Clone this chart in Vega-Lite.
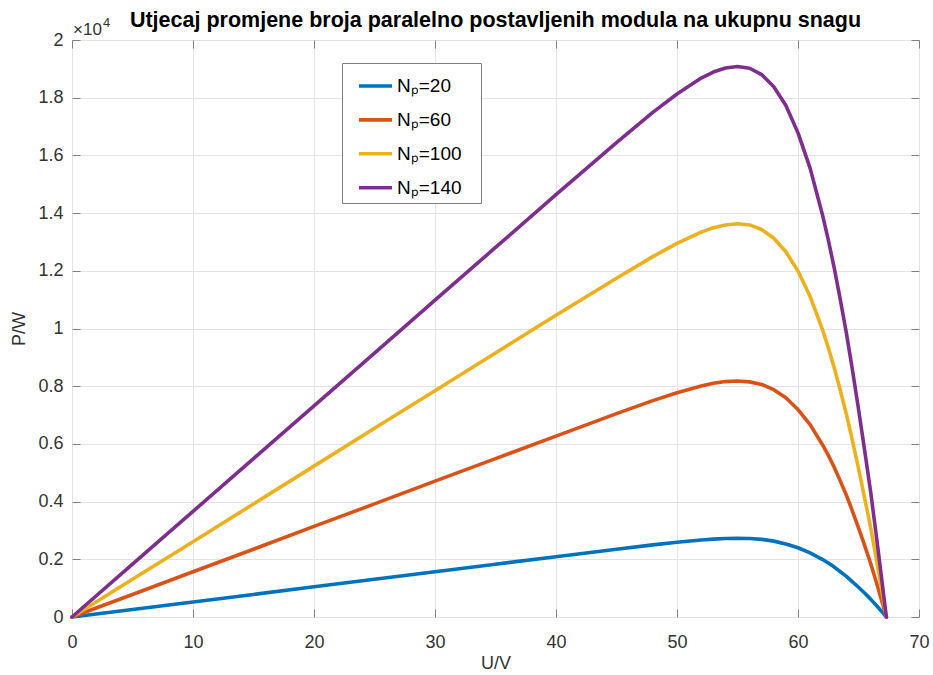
{
 "$schema": "https://vega.github.io/schema/vega-lite/v6.json",
 "width": 847,
 "height": 577,
 "autosize": {"type": "none"},
 "padding": {"left": 72, "top": 40, "right": 14, "bottom": 58},
 "background": "white",
 "config": {
  "font": "Liberation Sans",
  "view": {"stroke": "#808080", "strokeWidth": 1}
 },
 "title": {"text": "Utjecaj promjene broja paralelno postavljenih modula na ukupnu snagu", "fontSize": 21.5, "fontWeight": "bold", "color": "#000000", "offset": -14, "anchor": "middle", "font": "Liberation Sans"},
 "datasets": {
  "curves": [
   {"series":"Nₚ=20","U":0,"P":0},{"series":"Nₚ=20","U":5,"P":0.026},{"series":"Nₚ=20","U":10,"P":0.052},{"series":"Nₚ=20","U":15,"P":0.078},{"series":"Nₚ=20","U":20,"P":0.105},{"series":"Nₚ=20","U":25,"P":0.131},{"series":"Nₚ=20","U":30,"P":0.157},{"series":"Nₚ=20","U":35,"P":0.183},{"series":"Nₚ=20","U":40,"P":0.209},{"series":"Nₚ=20","U":45,"P":0.235},{"series":"Nₚ=20","U":48,"P":0.250},{"series":"Nₚ=20","U":50,"P":0.259},{"series":"Nₚ=20","U":52,"P":0.267},{"series":"Nₚ=20","U":53,"P":0.270},{"series":"Nₚ=20","U":54,"P":0.272},{"series":"Nₚ=20","U":55,"P":0.273},{"series":"Nₚ=20","U":56,"P":0.272},{"series":"Nₚ=20","U":57,"P":0.269},{"series":"Nₚ=20","U":58,"P":0.263},{"series":"Nₚ=20","U":59,"P":0.253},{"series":"Nₚ=20","U":60,"P":0.240},{"series":"Nₚ=20","U":61,"P":0.222},{"series":"Nₚ=20","U":62,"P":0.200},{"series":"Nₚ=20","U":62.5,"P":0.187},{"series":"Nₚ=20","U":63,"P":0.173},{"series":"Nₚ=20","U":63.5,"P":0.157},{"series":"Nₚ=20","U":64,"P":0.141},{"series":"Nₚ=20","U":64.5,"P":0.122},{"series":"Nₚ=20","U":65,"P":0.103},{"series":"Nₚ=20","U":65.5,"P":0.083},{"series":"Nₚ=20","U":66,"P":0.062},{"series":"Nₚ=20","U":66.5,"P":0.039},{"series":"Nₚ=20","U":67,"P":0.015},{"series":"Nₚ=20","U":67.3,"P":0},
   {"series":"Nₚ=60","U":0,"P":0},{"series":"Nₚ=60","U":5,"P":0.078},{"series":"Nₚ=60","U":10,"P":0.157},{"series":"Nₚ=60","U":15,"P":0.235},{"series":"Nₚ=60","U":20,"P":0.314},{"series":"Nₚ=60","U":25,"P":0.392},{"series":"Nₚ=60","U":30,"P":0.471},{"series":"Nₚ=60","U":35,"P":0.549},{"series":"Nₚ=60","U":40,"P":0.627},{"series":"Nₚ=60","U":45,"P":0.705},{"series":"Nₚ=60","U":48,"P":0.750},{"series":"Nₚ=60","U":50,"P":0.777},{"series":"Nₚ=60","U":52,"P":0.801},{"series":"Nₚ=60","U":53,"P":0.810},{"series":"Nₚ=60","U":54,"P":0.816},{"series":"Nₚ=60","U":55,"P":0.818},{"series":"Nₚ=60","U":56,"P":0.815},{"series":"Nₚ=60","U":57,"P":0.806},{"series":"Nₚ=60","U":58,"P":0.788},{"series":"Nₚ=60","U":59,"P":0.760},{"series":"Nₚ=60","U":60,"P":0.719},{"series":"Nₚ=60","U":61,"P":0.667},{"series":"Nₚ=60","U":62,"P":0.599},{"series":"Nₚ=60","U":62.5,"P":0.561},{"series":"Nₚ=60","U":63,"P":0.518},{"series":"Nₚ=60","U":63.5,"P":0.471},{"series":"Nₚ=60","U":64,"P":0.422},{"series":"Nₚ=60","U":64.5,"P":0.367},{"series":"Nₚ=60","U":65,"P":0.309},{"series":"Nₚ=60","U":65.5,"P":0.249},{"series":"Nₚ=60","U":66,"P":0.186},{"series":"Nₚ=60","U":66.5,"P":0.117},{"series":"Nₚ=60","U":67,"P":0.044},{"series":"Nₚ=60","U":67.3,"P":0},
   {"series":"Nₚ=100","U":0,"P":0},{"series":"Nₚ=100","U":5,"P":0.131},{"series":"Nₚ=100","U":10,"P":0.261},{"series":"Nₚ=100","U":15,"P":0.392},{"series":"Nₚ=100","U":20,"P":0.523},{"series":"Nₚ=100","U":25,"P":0.654},{"series":"Nₚ=100","U":30,"P":0.784},{"series":"Nₚ=100","U":35,"P":0.915},{"series":"Nₚ=100","U":40,"P":1.046},{"series":"Nₚ=100","U":45,"P":1.174},{"series":"Nₚ=100","U":48,"P":1.249},{"series":"Nₚ=100","U":50,"P":1.295},{"series":"Nₚ=100","U":52,"P":1.334},{"series":"Nₚ=100","U":53,"P":1.349},{"series":"Nₚ=100","U":54,"P":1.359},{"series":"Nₚ=100","U":55,"P":1.363},{"series":"Nₚ=100","U":56,"P":1.359},{"series":"Nₚ=100","U":57,"P":1.343},{"series":"Nₚ=100","U":58,"P":1.313},{"series":"Nₚ=100","U":59,"P":1.266},{"series":"Nₚ=100","U":60,"P":1.199},{"series":"Nₚ=100","U":61,"P":1.111},{"series":"Nₚ=100","U":62,"P":0.999},{"series":"Nₚ=100","U":62.5,"P":0.934},{"series":"Nₚ=100","U":63,"P":0.863},{"series":"Nₚ=100","U":63.5,"P":0.785},{"series":"Nₚ=100","U":64,"P":0.703},{"series":"Nₚ=100","U":64.5,"P":0.611},{"series":"Nₚ=100","U":65,"P":0.515},{"series":"Nₚ=100","U":65.5,"P":0.414},{"series":"Nₚ=100","U":66,"P":0.311},{"series":"Nₚ=100","U":66.5,"P":0.195},{"series":"Nₚ=100","U":67,"P":0.074},{"series":"Nₚ=100","U":67.3,"P":0},
   {"series":"Nₚ=140","U":0,"P":0},{"series":"Nₚ=140","U":5,"P":0.183},{"series":"Nₚ=140","U":10,"P":0.366},{"series":"Nₚ=140","U":15,"P":0.549},{"series":"Nₚ=140","U":20,"P":0.732},{"series":"Nₚ=140","U":25,"P":0.915},{"series":"Nₚ=140","U":30,"P":1.098},{"series":"Nₚ=140","U":35,"P":1.281},{"series":"Nₚ=140","U":40,"P":1.464},{"series":"Nₚ=140","U":45,"P":1.644},{"series":"Nₚ=140","U":48,"P":1.749},{"series":"Nₚ=140","U":50,"P":1.813},{"series":"Nₚ=140","U":52,"P":1.868},{"series":"Nₚ=140","U":53,"P":1.889},{"series":"Nₚ=140","U":54,"P":1.903},{"series":"Nₚ=140","U":55,"P":1.908},{"series":"Nₚ=140","U":56,"P":1.902},{"series":"Nₚ=140","U":57,"P":1.880},{"series":"Nₚ=140","U":58,"P":1.838},{"series":"Nₚ=140","U":59,"P":1.773},{"series":"Nₚ=140","U":60,"P":1.678},{"series":"Nₚ=140","U":61,"P":1.556},{"series":"Nₚ=140","U":62,"P":1.398},{"series":"Nₚ=140","U":62.5,"P":1.308},{"series":"Nₚ=140","U":63,"P":1.208},{"series":"Nₚ=140","U":63.5,"P":1.099},{"series":"Nₚ=140","U":64,"P":0.984},{"series":"Nₚ=140","U":64.5,"P":0.856},{"series":"Nₚ=140","U":65,"P":0.721},{"series":"Nₚ=140","U":65.5,"P":0.580},{"series":"Nₚ=140","U":66,"P":0.435},{"series":"Nₚ=140","U":66.5,"P":0.273},{"series":"Nₚ=140","U":67,"P":0.103},{"series":"Nₚ=140","U":67.3,"P":0}
  ],
  "note": [{"U": 0, "P": 2, "t": "×10"}],
  "sup": [{"U": 0, "P": 2, "t": "4"}]
 },
 "resolve": {"axis": {"x": "independent", "y": "independent"}},
 "layer": [
  {
   "data": {"name": "curves"},
   "mark": {"type": "line", "strokeWidth": 3.6, "strokeJoin": "round", "strokeCap": "round"},
   "encoding": {
    "x": {"field": "U", "type": "quantitative",
     "scale": {"domain": [0, 70], "nice": false, "zero": false},
     "axis": {"orient": "bottom", "values": [0,10,20,30,40,50,60,70], "grid": true, "gridColor": "#e3e3e3", "domain": false, "labelFlush": false, "labelOverlap": false,
      "tickSize": -8, "tickColor": "#808080", "labelFontSize": 18, "labelColor": "#333333", "labelPadding": 24,
      "title": "U/V", "titleFontSize": 18, "titleFontWeight": "normal", "titleColor": "#333333", "titlePadding": 3}},
    "y": {"field": "P", "type": "quantitative",
     "scale": {"domain": [0, 2], "nice": false, "zero": true},
     "axis": {"orient": "left", "values": [0,0.2,0.4,0.6,0.8,1,1.2,1.4,1.6,1.8,2], "format": "~g", "grid": true, "gridColor": "#e3e3e3", "domain": false, "labelFlush": false, "labelOverlap": false,
      "tickSize": -8, "tickColor": "#808080", "labelFontSize": 18, "labelColor": "#333333", "labelPadding": 17,
      "title": "P/W", "titleFontSize": 18, "titleFontWeight": "normal", "titleColor": "#333333", "titlePadding": 9}},
    "color": {"field": "series", "type": "nominal",
     "scale": {"domain": ["Nₚ=20", "Nₚ=60", "Nₚ=100", "Nₚ=140"], "range": ["#0072BD", "#D95319", "#EDB120", "#7E2F8E"]},
     "legend": {"title": null, "orient": "none", "legendX": 270, "legendY": 23, "direction": "vertical",
      "fillColor": "white", "strokeColor": "#808080", "padding": 4.5, "rowPadding": 4.9,
      "symbolType": "stroke", "symbolSize": 1089, "symbolStrokeWidth": 3.6, "symbolOffset": 10.5,
      "labelFontSize": 19, "labelColor": "#000000", "labelOffset": 3, "labelFont": "Liberation Sans",
      "labelExpr": "datum.label + '\u2800'"}}
   }
  },
  {
   "data": {"name": "note"},
   "mark": {"type": "text", "align": "left", "baseline": "alphabetic", "dx": 1, "dy": -5, "fontSize": 17, "color": "#333333"},
   "encoding": {
    "x": {"field": "U", "type": "quantitative",
     "axis": {"orient": "top", "values": [0,10,20,30,40,50,60,70], "labels": false, "grid": false, "domain": false, "tickSize": -8, "tickColor": "#808080", "title": null}},
    "y": {"field": "P", "type": "quantitative",
     "axis": {"orient": "right", "values": [0,0.2,0.4,0.6,0.8,1,1.2,1.4,1.6,1.8,2], "labels": false, "grid": false, "domain": false, "tickSize": -8, "tickColor": "#808080", "title": null}},
    "text": {"field": "t"}
   }
  },
  {
   "data": {"name": "sup"},
   "mark": {"type": "text", "align": "left", "baseline": "alphabetic", "dx": 31, "dy": -13, "fontSize": 13, "color": "#333333"},
   "encoding": {
    "x": {"field": "U", "type": "quantitative", "axis": null},
    "y": {"field": "P", "type": "quantitative", "axis": null},
    "text": {"field": "t"}
   }
  }
 ]
}
